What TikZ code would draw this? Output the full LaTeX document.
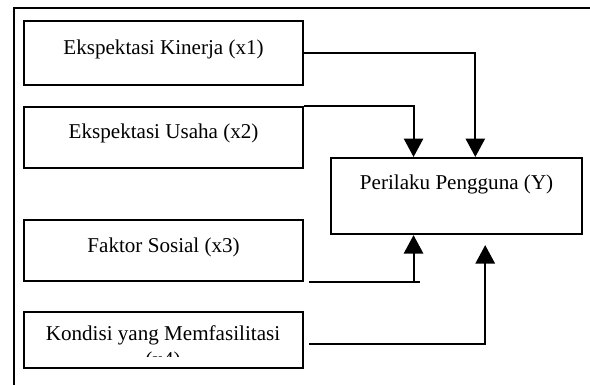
\documentclass[tikz,border=0pt]{standalone}
\usepackage{fontspec}
\setmainfont{Liberation Serif}
\usetikzlibrary{arrows.meta,calc}
\tikzset{
  kotak/.style={draw,line width=1.5pt,inner sep=0pt,anchor=north west,font=\fontsize{15}{18.5}\selectfont},
  faktor/.style={kotak,minimum width=6.975cm},
  panah/.style={line width=1.5pt,-{Triangle[length=0.46cm,width=0.48cm]}},
  garis/.style={line width=1.5pt}
}
\begin{document}
\begin{tikzpicture}[x=0.025cm,y=-0.025cm]
\useasboundingbox (0,0) rectangle (590,385);
\draw[line width=1.2pt] (14,385) -- (14,8) -- (590,8);
\node[faktor,text height=0.825cm,text depth=0.775cm] (x1) at (23,20) {Ekspektasi Kinerja (x1)};
\node[faktor,text height=0.775cm,text depth=0.75cm] (x2) at (23,106) {Ekspektasi Usaha (x2)};
\node[faktor,text height=0.8cm,text depth=0.725cm] (x3) at (23,219) {Faktor Sosial (x3)};
\node[faktor,minimum height=1.4cm] (x4) at (23,311) {};
\begin{scope}
\clip (23,311) rectangle (302,356);
\node[font=\fontsize{15}{18.5}\selectfont,anchor=base] (x4teks) at (163,340) {\begin{tabular}[t]{@{}c@{}}Kondisi yang Memfasilitasi\\(x4)\end{tabular}};
\end{scope}
\node[kotak,minimum width=6.275cm,text height=0.775cm,text depth=1.125cm] (Y) at (330,157) {Perilaku Pengguna (Y)};
\coordinate (y1) at ($(Y.north west)!0.574!(Y.north east)$);
\coordinate (y2) at ($(Y.north west)!0.33!(Y.north east)$);
\coordinate (y3) at ($(Y.south west)!0.33!(Y.south east)$);
\coordinate (y4) at ($(Y.south west)!0.613!(Y.south east)+(0,10)$);
\draw[panah] (x1.east) -| (y1);
\draw[panah] (x2.north east) -| (y2);
\draw[garis] ([shift={(5,0)}]x3.south east) -- ++(111,0);
\draw[panah] (y3 |- x3.south) -- (y3);
\draw[panah] ([shift={(5,4)}]x4.east) -| (y4);
\end{tikzpicture}
\end{document}
